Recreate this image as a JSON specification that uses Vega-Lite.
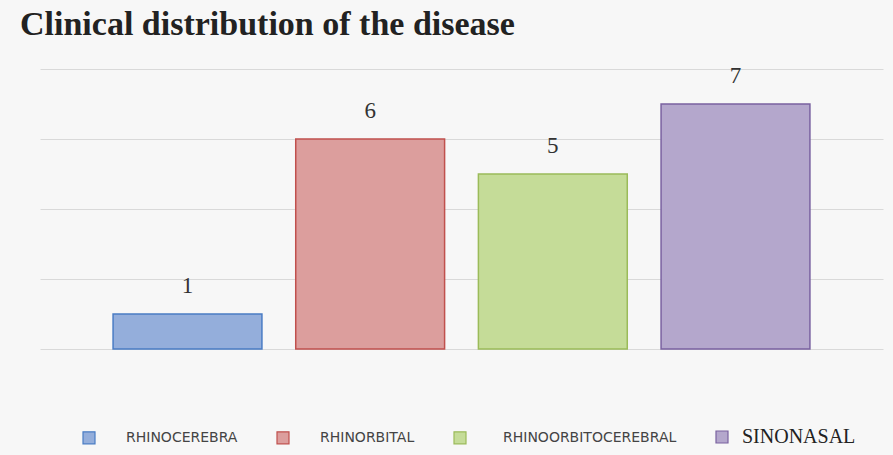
{
  "$schema": "https://vega.github.io/schema/vega-lite/v6.json",
  "autosize": "none",
  "width": 843,
  "height": 280,
  "padding": {"left": 40, "top": 69, "right": 10, "bottom": 106},
  "background": "#f7f7f7",
  "view": {"stroke": null},
  "title": {
    "text": "Clinical distribution of the disease",
    "anchor": "start",
    "font": "Liberation Serif",
    "fontSize": 34,
    "fontWeight": "bold",
    "color": "#222222",
    "baseline": "alphabetic",
    "offset": 31,
    "dy": 35,
    "dx": -20
  },
  "data": {
    "values": [
      {"category": "RHINOCEREBRA", "value": 1},
      {"category": "RHINORBITAL", "value": 6},
      {"category": "RHINOORBITOCEREBRAL", "value": 5},
      {"category": "SINONASAL", "value": 7}
    ]
  },
  "encoding": {
    "x": {
      "field": "category",
      "type": "nominal",
      "sort": null,
      "scale": {"paddingInner": 0.185, "paddingOuter": 0.4},
      "axis": null
    },
    "y": {
      "field": "value",
      "type": "quantitative",
      "scale": {"domain": [0, 8]},
      "axis": {
        "values": [0, 2, 4, 6, 8],
        "grid": true,
        "gridColor": "#d9d9d9",
        "gridWidth": 1.2,
        "labels": false,
        "ticks": false,
        "domain": false,
        "title": null
      }
    }
  },
  "layer": [
    {
      "mark": {"type": "bar", "strokeWidth": 1.5},
      "encoding": {
        "fill": {
          "field": "category",
          "type": "nominal",
          "sort": null,
          "scale": {"range": ["#94aedb", "#dc9e9d", "#c5dc98", "#b4a7cc"]},
          "legend": {
            "orient": "none",
            "legendX": 42,
            "legendY": 361,
            "direction": "horizontal",
            "columns": 4,
            "title": null,
            "symbolType": "square",
            "symbolSize": 144,
            "symbolStrokeWidth": 1.2,
            "labelOffset": 30,
            "columnPadding": 36,
            "labelFont": "DejaVu Sans",
            "labelFontSize": 14,
            "labelColor": "#444444",
            "labelLimit": 300,
            "encode": {
              "labels": {
                "update": {
                  "font": {"signal": "datum.label === 'SINONASAL' ? 'Liberation Serif' : 'DejaVu Sans'"},
                  "fontSize": {"signal": "datum.label === 'SINONASAL' ? 20 : 14"},
                  "fill": {"signal": "datum.label === 'SINONASAL' ? '#222222' : '#444444'"},
                  "dx": {"signal": "datum.label === 'SINONASAL' ? -17 : (datum.label === 'RHINOORBITOCEREBRAL' ? 6 : 0)"}
                }
              }
            }
          }
        },
        "stroke": {
          "field": "category",
          "type": "nominal",
          "sort": null,
          "scale": {"range": ["#4a7cc4", "#c0504d", "#9bbb59", "#7a62a0"]}
        }
      }
    },
    {
      "mark": {
        "type": "text",
        "dy": -21,
        "baseline": "alphabetic",
        "font": "Liberation Serif",
        "fontSize": 23,
        "color": "#333333"
      },
      "encoding": {
        "text": {"field": "value", "type": "quantitative"}
      }
    }
  ]
}
